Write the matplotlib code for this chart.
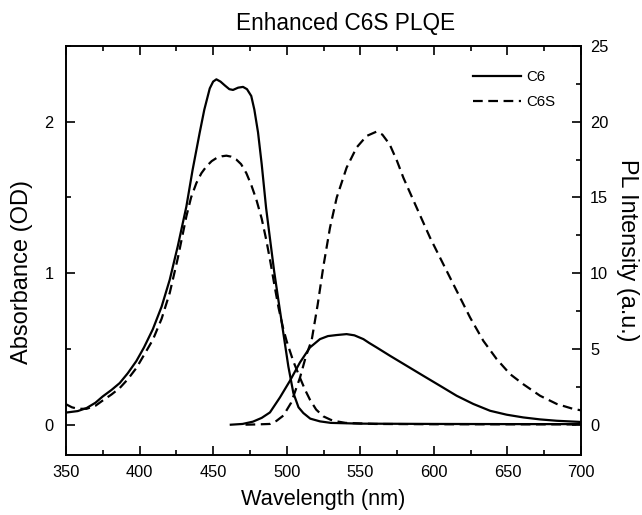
import matplotlib
matplotlib.use("Agg")
import matplotlib.pyplot as plt
from matplotlib.ticker import MultipleLocator

plt.rcParams['font.family'] = ['Liberation Sans', 'DejaVu Sans']
plt.rcParams['lines.scale_dashes'] = False

# ---- data ----
c6_abs_wl = [350, 358, 364, 370, 375, 381, 386.5, 392, 397.8, 403, 409, 415, 420.5, 426,
             431.8, 436, 440.9, 444, 447.7, 450, 452.2, 455, 457.9, 461, 463.5, 467, 470.3,
             473, 475.9, 478, 480.5, 483, 486, 489, 491.5, 494.3, 497.7, 501.1, 504.5, 508,
             511.3, 516, 522.6, 530, 550, 600, 650, 700]
c6_abs = [0.08, 0.09, 0.11, 0.145, 0.187, 0.23, 0.275, 0.34, 0.42, 0.51, 0.63, 0.78, 0.957, 1.18,
          1.44, 1.68, 1.93, 2.08, 2.22, 2.265, 2.28, 2.265, 2.24, 2.215, 2.21, 2.225, 2.23,
          2.215, 2.17, 2.08, 1.93, 1.72, 1.43, 1.2, 1.01, 0.825, 0.605, 0.385, 0.21, 0.115,
          0.077, 0.04, 0.022, 0.012, 0.007, 0.005, 0.004, 0.004]

c6s_abs_wl = [350, 354, 358, 364, 370, 375, 381, 386.5, 392, 397.8, 403, 409, 415, 420.5, 426,
              431.8, 435, 438.6, 442, 445.4, 449, 452.2, 456, 459, 462, 465.8, 469, 472.6, 476,
              479.4, 483, 486.1, 489, 491.8, 494.5, 497.5, 500, 504.5, 509, 512.5, 515.8, 520,
              524.9, 530, 534, 540, 560, 600, 700]
c6s_abs = [0.135, 0.115, 0.105, 0.105, 0.125, 0.16, 0.2, 0.242, 0.3, 0.374, 0.46, 0.56, 0.7, 0.87, 1.1,
           1.375, 1.5, 1.595, 1.66, 1.705, 1.74, 1.76, 1.772, 1.776, 1.77, 1.75, 1.72, 1.66, 1.58,
           1.485, 1.36, 1.22, 1.07, 0.913, 0.77, 0.64, 0.55, 0.418, 0.31, 0.23, 0.165, 0.1,
           0.055, 0.032, 0.022, 0.012, 0.005, 0.003, 0.002]

c6_pl_wl = [462, 470, 477, 483, 488.6, 495.4, 502.2, 509, 515.8, 522.6, 528, 534, 540.7, 546,
            552.1, 556, 561.1, 570.2, 581.5, 592.8, 604.2, 615.5, 626.8, 638.2, 649.5, 660.8,
            672.2, 683.5, 700]
c6_pl = [0, 0.05, 0.2, 0.45, 0.81, 1.8, 2.9, 4.11, 5.1, 5.65, 5.85, 5.92, 5.98, 5.9,
         5.65, 5.4, 5.1, 4.55, 3.89, 3.23, 2.57, 1.91, 1.37, 0.92, 0.66, 0.48,
         0.35, 0.26, 0.18]

c6s_pl_wl = [472, 480, 488.6, 493, 497.7, 503, 509, 513, 517, 521, 525, 529.4, 534, 540.7, 547.5,
             554.3, 561.1, 565, 570, 575, 579.3, 588.3, 597.4, 606.4, 615.5, 624.6, 633.6, 642.7,
             651.8, 660.8, 672.2, 683.5, 694.8, 700]
c6s_pl = [0, 0.02, 0.05, 0.25, 0.6, 1.45, 3.1, 4.5, 5.6, 7.9, 10.5, 13.0, 15.0, 16.97, 18.3,
          19.06, 19.35, 19.15, 18.5, 17.4, 16.3, 14.33, 12.35, 10.6, 8.84, 7.08, 5.54, 4.33,
          3.34, 2.67, 1.91, 1.37, 1.04, 0.95]

xticks = [350, 400, 450, 500, 550, 600, 650, 700]
left_ticks = [0, 1, 2]
right_ticks = [0, 5, 10, 15, 20, 25]

# ---- figure ----
W, H = 642, 515
fig = plt.figure(figsize=(W / 100, H / 100), dpi=100)
ax = fig.add_axes([66 / W, 60 / H, 515 / W, 409 / H])
ax2 = ax.twinx()

lw = 1.6
dash = (0, (7, 4))
ax.plot(c6_abs_wl, c6_abs, color='black', lw=lw, label='C6')
ax.plot(c6s_abs_wl, c6s_abs, color='black', lw=lw, linestyle=dash, label='C6S')
ax2.plot(c6_pl_wl, c6_pl, color='black', lw=lw)
ax2.plot(c6s_pl_wl, c6s_pl, color='black', lw=lw, linestyle=dash)

ax.set_xlim(350, 700)
ax.set_ylim(-0.2, 2.5)
ax2.set_ylim(-2, 25)

ax.set_xticks(xticks)
ax.xaxis.set_minor_locator(MultipleLocator(25))
ax.set_yticks(left_ticks)
ax.yaxis.set_minor_locator(MultipleLocator(0.5))
ax2.set_yticks(right_ticks)
ax2.yaxis.set_minor_locator(MultipleLocator(2.5))

fs_tick = 11.8
ax.tick_params(axis='x', which='both', direction='in', top=True, bottom=True,
               labelsize=fs_tick, pad=7)
ax.tick_params(axis='y', which='both', direction='in', left=True, right=False,
               labelsize=fs_tick, pad=9)
ax2.tick_params(axis='y', which='both', direction='in', right=True, left=False,
                labelsize=fs_tick, pad=6.5)
for a in (ax, ax2):
    a.tick_params(which='major', length=6.5, width=1.2)
    a.tick_params(which='minor', length=3.5, width=1.2)
    for s in a.spines.values():
        s.set_linewidth(1.2)

# axis labels and title placed in figure pixels (from top-left)
def fx(px):
    return px / W

def fy(py):
    return (H - py) / H

fig.text(fx(323), fy(500), 'Wavelength (nm)', fontsize=15.7, ha='center', va='center')
fig.text(fx(22), fy(272), 'Absorbance (OD)', fontsize=17, rotation=90,
         ha='center', va='center')
fig.text(fx(627), fy(250), 'PL Intensity (a.u.)', fontsize=16.8, rotation=270,
         ha='center', va='center')
fig.text(fx(346), fy(30), 'Enhanced C6S PLQE', fontsize=16.3, ha='center', va='baseline')

leg = ax.legend(loc='upper left', frameon=False, fontsize=10.8, handlelength=3.2,
                handletextpad=0.35, borderaxespad=0, borderpad=0, labelspacing=0.75,
                bbox_to_anchor=(fx(473), fy(70)), bbox_transform=fig.transFigure)

fig.savefig('out.png', dpi=100)
